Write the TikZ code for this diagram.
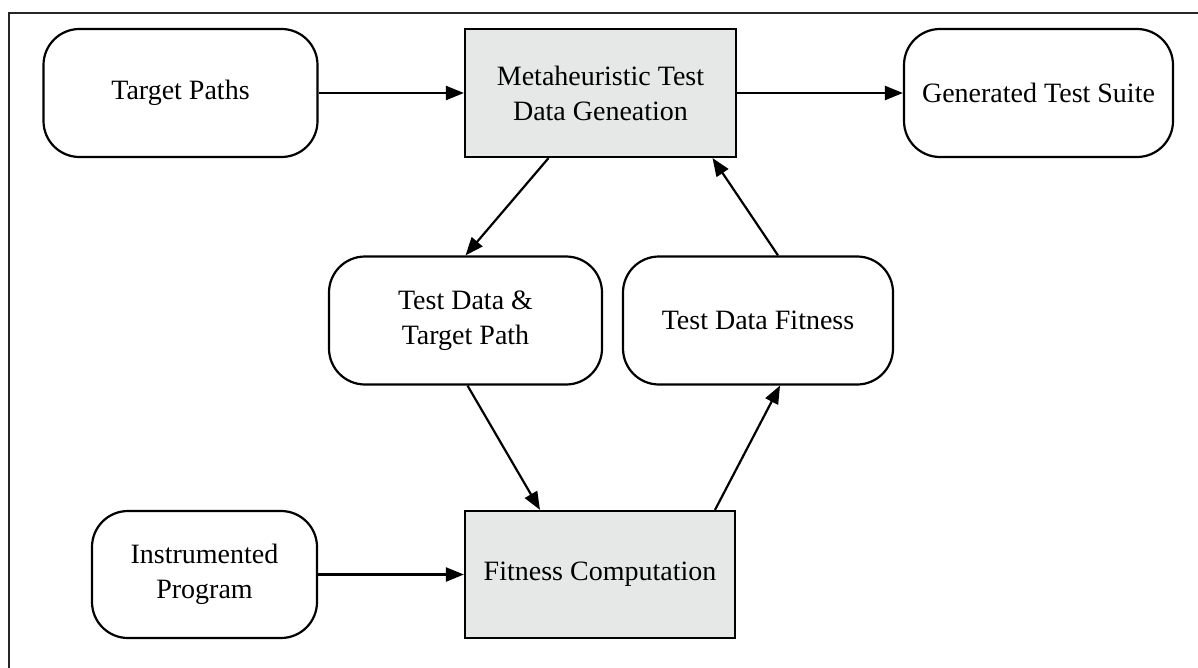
\documentclass[tikz,border=0pt]{standalone}
\usepackage{fontspec}
\setmainfont{Liberation Serif}
\usetikzlibrary{arrows.meta}
\definecolor{boxgray}{RGB}{230,231,231}
\tikzset{
  rbox/.style={draw=black, line width=2.2pt, rounded corners=36pt, fill=white, inner sep=0pt, align=center,
    font=\fontsize{28}{35}\selectfont},
  gbox/.style={draw=black, line width=2.2pt, fill=boxgray, inner sep=0pt, align=center,
    font=\fontsize{28}{35}\selectfont},
  conn/.style={line width=2.2pt, -{Triangle[length=18pt,width=14pt]}},
  frameline/.style={line width=2.2pt, draw=black!85}
}
\begin{document}
\begin{tikzpicture}[x=1pt,y=-1pt]
\useasboundingbox (0,0) rectangle (1198,668);
\coordinate (ftl) at (9,13);
\coordinate (ftr) at (1198,13);
\coordinate (fbl) at (9,668);
\draw[frameline] (ftr) -- (ftl) -- (fbl);

\node[rbox, minimum width=274pt, minimum height=128pt] (target) at (180.5,93) {Target Paths};
\node[gbox, minimum width=271pt, minimum height=128pt] (meta) at (600.5,93) {Metaheuristic Test\\Data Geneation};
\node[rbox, minimum width=269pt, minimum height=128pt] (suite) at (1038.5,93) {Generated Test Suite};
\node[rbox, minimum width=273pt, minimum height=128pt] (tdtp) at (465.5,320.5) {Test Data \&\\Target Path};
\node[rbox, minimum width=270pt, minimum height=128pt] (tdf) at (758,320.5) {Test Data Fitness};
\node[rbox, minimum width=225pt, minimum height=127pt] (instr) at (204.5,574.5) {Instrumented\\Program};
\node[gbox, minimum width=270pt, minimum height=127pt] (fit) at (600,574.5) {Fitness Computation};

\draw[conn] (target.east) -- (meta.west);
\draw[conn] (meta.east) -- (suite.west);
\draw[conn] ([xshift=-52pt]meta.south) -- (tdtp.north);
\draw[conn] ([xshift=20pt]tdf.north) -- ([xshift=112pt]meta.south);
\draw[conn] ([xshift=2pt]tdtp.south) -- ([xshift=-60pt]fit.north);
\draw[conn] ([xshift=115pt]fit.north) -- ([xshift=22pt]tdf.south);
\draw[conn] (instr.east) -- (fit.west);
\end{tikzpicture}
\end{document}
